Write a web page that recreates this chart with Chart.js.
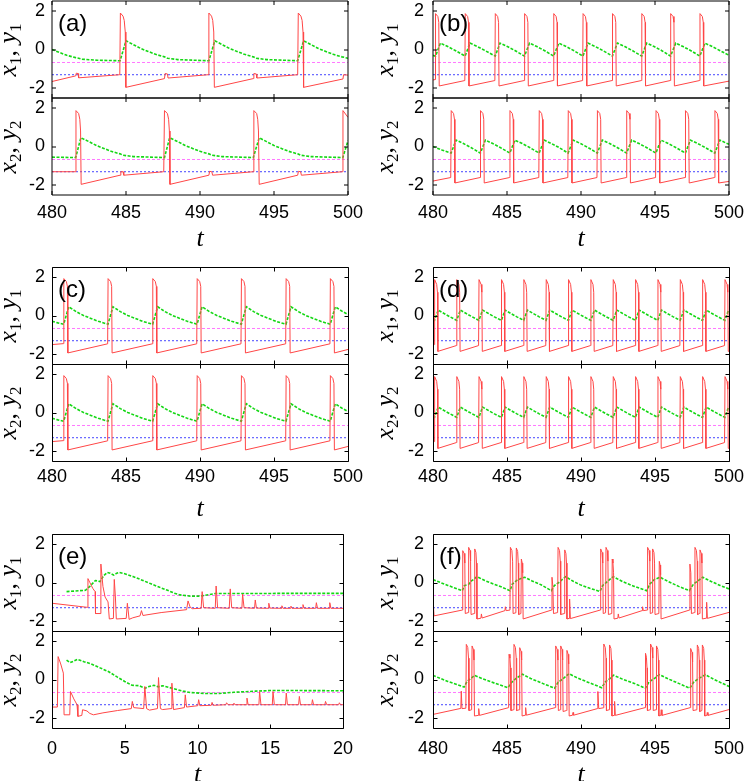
<!DOCTYPE html>
<html><head><meta charset="utf-8">
<script src="https://cdn.jsdelivr.net/npm/chart.js@4.4.1/dist/chart.umd.min.js"></script>
<style>
html,body{margin:0;padding:0;background:#fff;}
#wrap{position:relative;width:747px;height:781px;overflow:hidden;background:#fff;}
canvas{position:absolute;}
.lab{position:absolute;font-family:'Liberation Sans',Arial,sans-serif;font-size:24px;line-height:24px;color:#000;white-space:nowrap;}
.yl{position:absolute;font-family:'Liberation Serif','DejaVu Serif',serif;font-size:26px;line-height:26px;white-space:nowrap;transform:translate(-50%,-50%) rotate(-90deg);color:#000;}
.yl i{font-style:italic;}
.yl sub{font-size:17px;font-style:normal;vertical-align:-5px;line-height:0;}
.tl{position:absolute;font-family:'Liberation Serif','DejaVu Serif',serif;font-style:italic;font-size:26px;line-height:26px;transform:translateX(-50%);color:#000;}
</style></head><body><div id="wrap"></div>
<script>
// ---------------- DATA ----------------
const ticks480 = [480,485,490,495,500];
const ticks0 = [0,5,10,15,20];
const yTickVals = [-2,0,2];
const magentaLevel = -0.67;
const blueLevel = -1.3;

// (a) anti-phase
const a1x = [[480,-1.65],[481.6,-1.36],[481.64,-1.22],[481.76,-1.24],[481.8,-1.46],[484.58,-1.3],[484.62,1.88],[484.8,1.72],[484.88,1.5],[484.95,0.9],[484.99,-1.95],[487.6,-1.5],[487.64,-1.24],[487.8,-1.26],[487.84,-1.47],[490.56,-1.3],[490.6,1.88],[490.78,1.72],[490.86,1.5],[490.93,0.9],[490.97,-1.95],[493.6,-1.5],[493.64,-1.24],[493.8,-1.26],[493.84,-1.47],[496.6,-1.3],[496.64,1.88],[496.82,1.72],[496.9,1.5],[496.96,0.9],[497.0,-1.95],[499.66,-1.52],[499.7,-1.3],[500,-1.32]];
const a1y = [[480,0.0],[480.5,-0.15],[481.0,-0.3],[481.6,-0.42],[481.8,-0.45],[482.0,-0.5],[483,-0.55],[484.6,-0.58],[485.0,0.45],[485.5,0.25],[486.0,0.05],[486.5,-0.1],[487.0,-0.25],[487.6,-0.38],[487.8,-0.45],[488.5,-0.52],[490.6,-0.58],[491.0,0.45],[491.5,0.25],[492,0.05],[492.5,-0.1],[493,-0.25],[493.6,-0.38],[493.8,-0.45],[494.5,-0.52],[496.6,-0.58],[497.0,0.45],[497.5,0.25],[498,0.05],[498.5,-0.1],[499,-0.25],[499.6,-0.38],[500,-0.45]];
const a2x = [[480,-1.3],[481.58,-1.3],[481.62,1.85],[481.8,1.7],[481.88,1.4],[481.93,0.8],[481.97,-1.95],[484.6,-1.48],[484.65,-1.3],[484.8,-1.3],[484.85,-1.48],[487.55,-1.3],[487.6,1.85],[487.8,1.7],[487.88,1.4],[487.93,0.8],[487.97,-1.95],[490.6,-1.48],[490.65,-1.28],[490.8,-1.3],[490.85,-1.48],[493.6,-1.3],[493.64,1.85],[493.83,1.7],[493.9,1.4],[493.95,0.8],[494.0,-1.95],[496.6,-1.48],[496.65,-1.28],[496.8,-1.3],[496.85,-1.48],[499.62,-1.3],[499.66,1.85],[500,1.5]];
const a2y = [[480,-0.55],[481.6,-0.57],[481.95,0.45],[482.5,0.25],[483,0.05],[483.5,-0.1],[484,-0.25],[484.6,-0.38],[484.8,-0.45],[485.5,-0.52],[487.6,-0.57],[487.95,0.45],[488.5,0.25],[489,0.05],[489.5,-0.1],[490,-0.25],[490.6,-0.38],[490.8,-0.45],[491.5,-0.52],[493.6,-0.57],[494.0,0.45],[494.5,0.25],[495,0.05],[495.5,-0.1],[496,-0.25],[496.6,-0.38],[496.8,-0.45],[497.5,-0.52],[499.65,-0.57],[500,0.3]];

// (b)
const b1x = [[480,-1.57],[480.14,-1.55],[480.17,1.85],[480.33,1.7],[480.39,1.4],[480.42,-1.88],[482.15,-1.6],[482.18,1.85],[482.34,1.7],[482.4,1.4],[482.43,-1.88],[484.18,-1.6],[484.21,1.85],[484.37,1.7],[484.43,1.4],[484.46,-1.88],[486.16,-1.6],[486.19,1.85],[486.35,1.7],[486.41,1.4],[486.44,-1.88],[488.13,-1.6],[488.16,1.85],[488.32,1.7],[488.38,1.4],[488.41,-1.88],[490.11,-1.6],[490.14,1.85],[490.3,1.7],[490.36,1.4],[490.39,-1.88],[492.1,-1.6],[492.13,1.85],[492.29,1.7],[492.35,1.4],[492.38,-1.88],[494.08,-1.6],[494.11,1.85],[494.27,1.7],[494.33,1.4],[494.36,-1.88],[496.03,-1.6],[496.06,1.85],[496.22,1.7],[496.28,1.4],[496.31,-1.88],[498.01,-1.6],[498.04,1.85],[498.2,1.7],[498.26,1.4],[498.29,-1.88],[500,-1.63]];
const b1y = [[480,-0.3],[480.17,-0.35],[480.5,0.33],[481.0,0.15],[481.5,-0.05],[482.17,-0.34],[482.5,0.33],[483,0.15],[483.5,-0.05],[484.2,-0.34],[484.53,0.33],[485.03,0.15],[485.53,-0.05],[486.18,-0.34],[486.52,0.33],[487.02,0.15],[487.52,-0.05],[488.15,-0.34],[488.5,0.33],[489,0.15],[489.5,-0.05],[490.13,-0.34],[490.47,0.33],[490.97,0.15],[491.47,-0.05],[492.12,-0.34],[492.46,0.33],[492.96,0.15],[493.46,-0.05],[494.1,-0.34],[494.44,0.33],[494.94,0.15],[495.44,-0.05],[496.05,-0.34],[496.4,0.33],[496.9,0.15],[497.4,-0.05],[498.03,-0.34],[498.37,0.33],[498.87,0.15],[499.37,-0.05],[500,-0.3]];
const b2x = [[480,-1.78],[481.2,-1.6],[481.23,1.85],[481.39,1.7],[481.45,1.4],[481.48,-1.88],[483.18,-1.6],[483.21,1.85],[483.37,1.7],[483.43,1.4],[483.46,-1.88],[485.17,-1.6],[485.2,1.85],[485.36,1.7],[485.42,1.4],[485.45,-1.88],[487.15,-1.6],[487.18,1.85],[487.34,1.7],[487.4,1.4],[487.43,-1.88],[489.11,-1.6],[489.14,1.85],[489.3,1.7],[489.36,1.4],[489.39,-1.88],[491.08,-1.6],[491.11,1.85],[491.27,1.7],[491.33,1.4],[491.36,-1.88],[493.06,-1.6],[493.09,1.85],[493.25,1.7],[493.31,1.4],[493.34,-1.88],[495.04,-1.6],[495.07,1.85],[495.23,1.7],[495.29,1.4],[495.32,-1.88],[497.03,-1.6],[497.06,1.85],[497.22,1.7],[497.28,1.4],[497.31,-1.88],[499.02,-1.6],[499.05,1.85],[499.21,1.7],[499.27,1.4],[499.3,-1.88],[500,-1.8]];
const b2y = [[480,0.0],[480.6,-0.18],[481.22,-0.34],[481.56,0.33],[482.06,0.15],[482.56,-0.05],[483.2,-0.34],[483.54,0.33],[484.04,0.15],[484.54,-0.05],[485.19,-0.34],[485.53,0.33],[486.03,0.15],[486.53,-0.05],[487.17,-0.34],[487.51,0.33],[488.01,0.15],[488.51,-0.05],[489.13,-0.34],[489.47,0.33],[489.97,0.15],[490.47,-0.05],[491.1,-0.34],[491.44,0.33],[491.94,0.15],[492.44,-0.05],[493.08,-0.34],[493.42,0.33],[493.92,0.15],[494.42,-0.05],[495.06,-0.34],[495.4,0.33],[495.9,0.15],[496.4,-0.05],[497.05,-0.34],[497.39,0.33],[497.89,0.15],[498.39,-0.05],[499.04,-0.34],[499.38,0.33],[499.88,0.15],[500,0.11]];

// (c) in-phase: both units identical
const cx = [[480,-1.5],[480.77,-1.45],[480.8,1.9],[480.97,1.75],[481.04,1.5],[481.07,-1.93],[483.76,-1.46],[483.79,1.9],[483.96,1.75],[484.03,1.5],[484.06,-1.93],[486.78,-1.46],[486.81,1.9],[486.98,1.75],[487.05,1.5],[487.08,-1.93],[489.78,-1.46],[489.81,1.9],[489.98,1.75],[490.05,1.5],[490.08,-1.93],[492.77,-1.46],[492.8,1.9],[492.97,1.75],[493.04,1.5],[493.07,-1.93],[495.79,-1.46],[495.82,1.9],[495.99,1.75],[496.06,1.5],[496.09,-1.93],[498.78,-1.46],[498.81,1.9],[498.98,1.75],[499.05,1.5],[499.08,-1.93],[500,-1.75]];
const cy = [[480,-0.3],[480.4,-0.38],[480.79,-0.45],[481.13,0.45],[481.63,0.2],[482.13,0.0],[482.63,-0.15],[483.13,-0.3],[483.78,-0.45],[484.12,0.45],[484.62,0.2],[485.12,0.0],[485.62,-0.15],[486.12,-0.3],[486.8,-0.45],[487.14,0.45],[487.64,0.2],[488.14,0.0],[488.64,-0.15],[489.14,-0.3],[489.8,-0.45],[490.14,0.45],[490.64,0.2],[491.14,0.0],[491.64,-0.15],[492.14,-0.3],[492.79,-0.45],[493.13,0.45],[493.63,0.2],[494.13,0.0],[494.63,-0.15],[495.13,-0.3],[495.81,-0.45],[496.15,0.45],[496.65,0.2],[497.15,0.0],[497.65,-0.15],[498.15,-0.3],[498.8,-0.45],[499.14,0.45],[499.64,0.2],[500,0.05]];

// (d) in-phase: both units identical
const dx = [[480,-1.52],[480.08,-1.5],[480.11,1.85],[480.25,1.6],[480.3,1.2],[480.33,-1.85],[481.58,-1.55],[481.61,1.85],[481.75,1.6],[481.8,1.2],[481.83,-1.85],[483.08,-1.55],[483.11,1.85],[483.25,1.6],[483.3,1.2],[483.33,-1.85],[484.6,-1.55],[484.63,1.85],[484.77,1.6],[484.82,1.2],[484.85,-1.85],[486.11,-1.55],[486.14,1.85],[486.28,1.6],[486.33,1.2],[486.36,-1.85],[487.62,-1.55],[487.65,1.85],[487.79,1.6],[487.84,1.2],[487.87,-1.85],[489.13,-1.55],[489.16,1.85],[489.3,1.6],[489.35,1.2],[489.38,-1.85],[490.64,-1.55],[490.67,1.85],[490.81,1.6],[490.86,1.2],[490.89,-1.85],[492.15,-1.55],[492.18,1.85],[492.32,1.6],[492.37,1.2],[492.4,-1.85],[493.66,-1.55],[493.69,1.85],[493.83,1.6],[493.88,1.2],[493.91,-1.85],[495.17,-1.55],[495.2,1.85],[495.34,1.6],[495.39,1.2],[495.42,-1.85],[496.68,-1.55],[496.71,1.85],[496.85,1.6],[496.9,1.2],[496.93,-1.85],[498.19,-1.55],[498.22,1.85],[498.36,1.6],[498.41,1.2],[498.44,-1.85],[499.7,-1.55],[499.73,1.85],[499.87,1.6],[499.92,1.2],[499.95,-1.85],[500,-1.84]];
const dy = [[480,-0.2],[480.1,-0.25],[480.35,0.28],[480.75,0.1],[481.15,-0.07],[481.6,-0.25],[481.85,0.28],[482.25,0.1],[482.65,-0.07],[483.1,-0.25],[483.35,0.28],[483.75,0.1],[484.15,-0.07],[484.62,-0.25],[484.87,0.28],[485.27,0.1],[485.67,-0.07],[486.13,-0.25],[486.38,0.28],[486.78,0.1],[487.18,-0.07],[487.64,-0.25],[487.89,0.28],[488.29,0.1],[488.69,-0.07],[489.15,-0.25],[489.4,0.28],[489.8,0.1],[490.2,-0.07],[490.66,-0.25],[490.91,0.28],[491.31,0.1],[491.71,-0.07],[492.17,-0.25],[492.42,0.28],[492.82,0.1],[493.22,-0.07],[493.68,-0.25],[493.93,0.28],[494.33,0.1],[494.73,-0.07],[495.19,-0.25],[495.44,0.28],[495.84,0.1],[496.24,-0.07],[496.7,-0.25],[496.95,0.28],[497.35,0.1],[497.75,-0.07],[498.21,-0.25],[498.46,0.28],[498.86,0.1],[499.26,-0.07],[499.72,-0.25],[499.97,0.28],[500,0.27]];

// (e) transient, t = 0..20
const e1x = [[0,-1.07],[2.43,-1.28],[2.47,0.2],[2.6,0.0],[2.8,-0.3],[2.96,-0.47],[2.99,-1.6],[3.3,-1.6],[3.36,0.95],[3.5,-0.2],[3.65,-0.75],[3.85,-1.0],[3.94,-1.88],[4.22,-1.85],[4.28,0.16],[4.36,-0.8],[4.42,-1.88],[5.1,-1.85],[5.18,-1.07],[5.3,-1.9],[5.55,-1.82],[6.05,-1.72],[6.15,-1.45],[6.25,-1.7],[7.5,-1.55],[9.25,-1.4],[9.35,-0.95],[9.5,-1.28],[9.65,-1.35],[10.25,-1.33],[10.32,-0.47],[10.42,-1.3],[11.22,-1.33],[11.28,-0.18],[11.38,-1.3],[12.18,-1.33],[12.25,-0.33],[12.35,-1.3],[13.05,-1.33],[13.1,-0.6],[13.2,-1.3],[13.92,-1.33],[13.97,-0.9],[14.05,-1.32],[14.85,-1.33],[14.9,-1.07],[14.98,-1.32],[15.75,-1.33],[15.8,-1.2],[15.88,-1.33],[16.38,-1.33],[16.42,-1.22],[16.5,-1.33],[17.2,-1.33],[17.25,-1.14],[17.33,-1.33],[18.12,-1.33],[18.17,-1.04],[18.25,-1.33],[19.04,-1.33],[19.09,-1.04],[19.17,-1.33],[20,-1.33]];
const e1y = [[1.0,-0.47],[2.3,-0.4],[2.6,-0.2],[2.98,0.1],[3.3,0.05],[3.55,0.35],[3.8,0.52],[4.0,0.48],[4.24,0.38],[4.45,0.48],[4.6,0.52],[5.0,0.45],[5.6,0.3],[6.2,0.12],[6.8,-0.07],[7.4,-0.25],[7.9,-0.39],[8.4,-0.55],[8.8,-0.64],[9.5,-0.7],[10.2,-0.7],[10.65,-0.64],[11.2,-0.57],[12,-0.57],[14,-0.57],[16,-0.56],[18,-0.56],[20,-0.56]];
const e2x = [[0,-1.42],[0.37,-1.42],[0.42,1.18],[0.6,0.8],[0.78,0.33],[0.83,-1.82],[1.22,-1.82],[1.27,-0.62],[1.5,-1.0],[1.72,-1.3],[1.78,-1.9],[2.05,-1.85],[2.1,-1.56],[2.4,-1.62],[2.6,-1.75],[2.85,-1.82],[3.5,-1.72],[4.5,-1.6],[5.45,-1.5],[5.52,-1.13],[5.62,-1.45],[6.3,-1.5],[6.38,-0.36],[6.5,-1.5],[6.7,-1.58],[7.25,-1.5],[7.32,0.1],[7.45,-1.5],[7.6,-1.55],[8.18,-1.5],[8.24,-0.19],[8.35,-1.55],[9.1,-1.45],[9.16,-0.79],[9.25,-1.42],[10.02,-1.35],[10.08,-1.04],[10.16,-1.35],[10.95,-1.33],[11.0,-1.18],[11.08,-1.33],[11.95,-1.3],[12.0,-1.2],[12.1,-1.3],[12.45,-1.3],[12.5,-1.22],[12.58,-1.3],[13.35,-1.3],[13.4,-0.96],[13.48,-1.3],[14.22,-1.3],[14.27,-0.62],[14.36,-1.3],[15.14,-1.3],[15.19,-0.62],[15.28,-1.3],[16.05,-1.3],[16.1,-0.7],[16.18,-1.3],[16.95,-1.3],[17.0,-0.87],[17.08,-1.3],[17.85,-1.3],[17.9,-1.04],[17.98,-1.3],[18.75,-1.3],[18.8,-1.13],[18.88,-1.3],[19.7,-1.3],[19.75,-1.2],[19.83,-1.3],[20,-1.3]];
const e2y = [[1.0,1.0],[1.25,0.87],[1.5,0.95],[1.76,1.04],[2.2,0.92],[2.7,0.8],[3.3,0.6],[3.9,0.4],[4.5,0.12],[5.0,-0.1],[5.5,-0.3],[6.0,-0.32],[6.4,-0.45],[6.6,-0.38],[7.0,-0.3],[7.3,-0.38],[7.6,-0.32],[8.0,-0.4],[8.5,-0.5],[9.0,-0.6],[9.5,-0.67],[10.5,-0.72],[11.5,-0.72],[12.5,-0.66],[14,-0.6],[15,-0.57],[17,-0.57],[20,-0.58]];

// (f) bursting
const f1x = [[480,-0.85],[480.07,-1.72],[481.98,-1.42],[482.01,1.64],[482.1,1.5],[482.15,1.0],[482.18,-1.6],[482.38,-1.55],[482.41,1.81],[482.5,1.65],[482.54,1.1],[482.57,-1.65],[482.79,-1.6],[482.82,1.73],[482.9,1.55],[482.94,1.0],[482.97,-1.88],[483.24,-1.84],[483.27,-1.62],[483.32,-1.83],[484.86,-1.45],[484.89,-1.25],[484.94,-1.45],[485.2,-1.42],[485.23,1.81],[485.33,1.65],[485.38,1.1],[485.41,-1.6],[485.6,-1.56],[485.63,1.78],[485.72,1.6],[485.76,1.0],[485.79,-1.65],[485.94,-1.6],[485.97,1.21],[486.03,1.0],[486.06,0.5],[486.09,-1.88],[488.01,-1.42],[488.04,0.27],[488.1,-0.2],[488.14,-1.6],[488.42,-1.55],[488.45,1.81],[488.55,1.65],[488.6,1.1],[488.63,-1.65],[488.87,-1.6],[488.9,1.68],[488.98,1.5],[489.02,1.0],[489.05,-1.88],[489.2,-1.85],[489.23,-0.85],[489.28,-1.86],[491.3,-1.42],[491.33,1.73],[491.42,1.55],[491.47,1.0],[491.5,-1.6],[491.66,-1.56],[491.69,1.81],[491.78,1.65],[491.82,1.1],[491.85,-1.65],[492.08,-1.6],[492.11,1.21],[492.16,1.0],[492.2,0.5],[492.23,-1.88],[492.49,-1.84],[492.52,-1.62],[492.57,-1.83],[494.13,-1.45],[494.16,-1.25],[494.21,-1.45],[494.47,-1.42],[494.5,1.81],[494.6,1.65],[494.65,1.1],[494.68,-1.6],[494.81,-1.56],[494.84,1.73],[494.93,1.55],[494.97,1.0],[495.0,-1.65],[495.26,-1.6],[495.29,1.09],[495.34,0.9],[495.38,0.4],[495.41,-1.88],[497.33,-1.42],[497.36,0.95],[497.42,0.5],[497.46,-1.6],[497.67,-1.55],[497.7,1.81],[497.8,1.65],[497.85,1.1],[497.88,-1.65],[498.01,-1.6],[498.04,1.68],[498.13,1.5],[498.17,1.0],[498.2,-1.88],[498.46,-1.84],[498.49,-1.02],[498.54,-1.85],[500,-1.54]];
const f1y = [[480,0.15],[481.0,-0.15],[481.98,-0.42],[482.12,-0.16],[482.4,-0.1],[482.6,0.08],[482.97,0.3],[483.5,0.1],[484.0,-0.05],[484.6,-0.22],[485.2,-0.42],[485.36,-0.08],[485.7,0.13],[485.95,0.21],[486.19,0.27],[486.7,0.08],[487.3,-0.12],[488.0,-0.42],[488.2,-0.16],[488.5,0.0],[488.96,0.3],[489.5,0.05],[489.93,-0.11],[490.6,-0.3],[491.28,-0.46],[491.46,-0.16],[491.85,0.1],[492.18,0.3],[492.8,0.05],[493.6,-0.2],[494.43,-0.42],[494.65,-0.08],[494.95,0.15],[495.34,0.27],[495.9,0.05],[496.6,-0.2],[497.32,-0.42],[497.6,-0.08],[497.93,0.1],[498.22,0.27],[498.8,0.05],[499.4,-0.15],[500,-0.33]];
const f2x = [[480,-1.8],[481.88,-1.49],[481.91,-0.6],[481.96,-1.5],[482.22,-1.48],[482.25,1.81],[482.35,1.65],[482.4,1.1],[482.43,-1.6],[482.61,-1.56],[482.64,1.73],[482.73,1.55],[482.77,1.0],[482.8,-1.88],[483.06,-1.85],[483.09,-1.5],[483.14,-1.85],[485.11,-1.45],[485.14,1.3],[485.2,1.1],[485.24,0.6],[485.27,-1.6],[485.44,-1.56],[485.47,1.81],[485.57,1.65],[485.62,1.1],[485.65,-1.6],[485.83,-1.56],[485.86,1.64],[485.95,1.45],[485.99,1.0],[486.02,-1.88],[486.23,-1.84],[486.26,-1.45],[486.31,-1.84],[488.26,-1.45],[488.29,1.73],[488.39,1.55],[488.44,1.0],[488.47,-1.6],[488.6,-1.56],[488.63,1.73],[488.72,1.55],[488.76,1.0],[488.79,-1.65],[489.02,-1.6],[489.05,1.5],[489.13,1.3],[489.17,0.8],[489.2,-1.88],[489.43,-1.84],[489.46,-1.7],[489.5,-1.84],[491.11,-1.5],[491.14,-0.62],[491.2,-1.5],[491.51,-1.46],[491.54,1.83],[491.64,1.65],[491.69,1.1],[491.72,-1.6],[491.9,-1.56],[491.93,1.78],[492.02,1.6],[492.06,1.0],[492.09,-1.88],[492.24,-1.85],[492.27,-1.13],[492.32,-1.85],[494.33,-1.45],[494.36,1.35],[494.42,1.15],[494.46,0.6],[494.49,-1.6],[494.67,-1.56],[494.7,1.83],[494.8,1.65],[494.85,1.1],[494.88,-1.6],[495.07,-1.56],[495.1,1.73],[495.19,1.55],[495.23,1.0],[495.26,-1.88],[495.39,-1.85],[495.42,-1.56],[495.47,-1.85],[497.38,-1.45],[497.41,1.6],[497.5,1.4],[497.54,0.9],[497.57,-1.6],[497.83,-1.56],[497.86,1.78],[497.95,1.6],[497.99,1.0],[498.02,-1.65],[498.17,-1.6],[498.2,1.78],[498.29,1.6],[498.33,1.0],[498.36,-1.88],[498.5,-1.85],[498.53,-1.7],[498.58,-1.85],[500,-1.55]];
const f2y = [[480,0.21],[481.0,-0.1],[482.1,-0.39],[482.3,-0.1],[482.55,0.05],[482.82,0.21],[483.4,0.02],[484.2,-0.2],[485.07,-0.42],[485.3,-0.16],[485.6,0.05],[486.04,0.27],[486.6,0.05],[487.4,-0.2],[488.22,-0.45],[488.45,-0.15],[488.8,0.05],[489.19,0.3],[489.7,0.1],[490.5,-0.15],[491.4,-0.42],[491.65,-0.12],[491.95,0.05],[492.2,0.22],[492.8,0.02],[493.6,-0.2],[494.35,-0.45],[494.6,-0.12],[494.95,0.05],[495.3,0.25],[495.9,0.03],[496.6,-0.2],[497.35,-0.45],[497.6,-0.15],[497.95,0.05],[498.4,0.25],[499.0,0.0],[500,-0.36]];

// ---------------- LAYOUT / STYLE ----------------
const RED = 'rgb(255,70,70)', GREEN = 'rgb(20,215,20)', BLUE = 'rgb(70,70,255)', MAG = 'rgb(255,120,255)';
const TICKFONT = "'Liberation Sans', Arial, sans-serif";
const wrap = document.getElementById('wrap');
const SUBH = 97;

const framePlugin = {
  id: 'frame',
  afterDatasetsDraw(chart, args, opts) {
    const {ctx, chartArea: a, scales: {x, y}} = chart;
    const o = opts.off || 0;
    const L = Math.round(a.left) + o, R = Math.round(a.right) + o, T = Math.round(a.top) + o, B = Math.round(a.bottom) + o;
    const tl = 4;
    ctx.save();
    ctx.strokeStyle = opts.color || '#000';
    ctx.lineWidth = 1;
    ctx.beginPath();
    ctx.rect(L, T, R - L, B - T);
    for (const tk of x.ticks) {
      const px = Math.round(x.getPixelForValue(tk.value)) + o;
      ctx.moveTo(px, B); ctx.lineTo(px, B - tl);
      ctx.moveTo(px, T); ctx.lineTo(px, T + tl);
    }
    for (const tk of y.ticks) {
      const py = Math.round(y.getPixelForValue(tk.value)) + o;
      ctx.moveTo(L, py); ctx.lineTo(L + tl, py);
      ctx.moveTo(R, py); ctx.lineTo(R - tl, py);
    }
    ctx.stroke();
    ctx.restore();
  }
};

function makeSub(o) {
  const cv = document.createElement('canvas');
  const padTop = 4, padRight = 20;
  const xAxisH = o.showX ? 44 : 4;
  const W = o.fl - o.cl;
  const width = o.fr + padRight - o.cl;
  const height = padTop + SUBH + xAxisH;
  cv.width = width; cv.height = height;
  cv.style.left = o.cl + 'px'; cv.style.top = (o.top - padTop) + 'px';
  cv.style.width = width + 'px'; cv.style.height = height + 'px';
  wrap.appendChild(cv);
  new Chart(cv, {
    type: 'line',
    data: {datasets: [
      {data: o.xs, borderColor: RED, borderWidth: 1},
      {data: o.ys, borderColor: GREEN, borderWidth: 1.6, borderDash: [3, 1.5]},
      {data: [[o.xmin, blueLevel], [o.xmax, blueLevel]], borderColor: BLUE, borderWidth: 1, borderDash: [2, 2]},
      {data: [[o.xmin, magentaLevel], [o.xmax, magentaLevel]], borderColor: MAG, borderWidth: 1, borderDash: [3, 2]}
    ]},
    options: {
      responsive: false, animation: false, devicePixelRatio: 1,
      layout: {padding: {top: padTop, right: padRight, left: 0, bottom: 0}},
      elements: {point: {radius: 0}, line: {tension: 0, fill: false}},
      plugins: {legend: {display: false}, tooltip: {enabled: false}, frame: {color: o.fcol, off: o.off}},
      scales: {
        x: {
          type: 'linear', min: o.xmin, max: o.xmax,
          grid: {display: false, drawTicks: false}, border: {display: false},
          afterBuildTicks: s => { s.ticks = o.xt.map(v => ({value: v})); },
          ticks: {display: o.showX, padding: o.lpad, maxRotation: 0, autoSkip: false, color: '#000', font: {family: TICKFONT, size: 18}},
          afterFit: s => { s.height = xAxisH; s.paddingLeft = 0; s.paddingRight = 0; }
        },
        y: {
          type: 'linear', min: -2.5, max: 2.5,
          grid: {display: false, drawTicks: false}, border: {display: false},
          afterBuildTicks: s => { s.ticks = yTickVals.map(v => ({value: v})); },
          ticks: {padding: o.ypad, color: '#000', font: {family: TICKFONT, size: 18}},
          afterFit: s => { s.width = W; s.paddingTop = 0; s.paddingBottom = 0; }
        }
      }
    },
    plugins: [framePlugin]
  });
}

function addDiv(cls, html, left, top) {
  const d = document.createElement('div');
  d.className = cls; d.innerHTML = html;
  d.style.left = left + 'px'; d.style.top = top + 'px';
  wrap.appendChild(d);
}

const rows = [
  {top: 1, lpad: 7, tTop: 225, fcol: '#000', off: 0},
  {top: 267, lpad: 5.5, tTop: 495, fcol: '#000', off: 0.5},
  {top: 534, lpad: 10, tTop: 761, fcol: '#000', off: 0.5}
];
const cols = [
  {cl: 0, fl: 52, ypad: 7, ylx: 7.5},
  {cl: 377, fl: 433, ypad: 9, ylx: 384.5}
];
const panels = [
  {lab: '(a)', r: 0, c: 0, fr: 348, xmin: 480, xmax: 500, xt: ticks480, top: [a1x, a1y], bot: [a2x, a2y]},
  {lab: '(b)', r: 0, c: 1, fr: 729, xmin: 480, xmax: 500, xt: ticks480, top: [b1x, b1y], bot: [b2x, b2y]},
  {lab: '(c)', r: 1, c: 0, fr: 348, xmin: 480, xmax: 500, xt: ticks480, top: [cx, cy], bot: [cx, cy]},
  {lab: '(d)', r: 1, c: 1, fr: 729, xmin: 480, xmax: 500, xt: ticks480, top: [dx, dy], bot: [dx, dy]},
  {lab: '(e)', r: 2, c: 0, fr: 343, xmin: 0, xmax: 20, xt: ticks0, top: [e1x, e1y], bot: [e2x, e2y]},
  {lab: '(f)', r: 2, c: 1, fr: 729, xmin: 480, xmax: 500, xt: ticks480, top: [f1x, f1y], bot: [f2x, f2y]}
];

for (const p of panels) {
  const R = rows[p.r], C = cols[p.c];
  const base = {cl: C.cl, fl: C.fl, fr: p.fr, xmin: p.xmin, xmax: p.xmax, xt: p.xt, ypad: C.ypad, lpad: R.lpad, fcol: R.fcol, off: R.off};
  makeSub(Object.assign({}, base, {top: R.top, showX: false, xs: p.top[0], ys: p.top[1]}));
  makeSub(Object.assign({}, base, {top: R.top + SUBH, showX: true, xs: p.bot[0], ys: p.bot[1]}));
  addDiv('lab', p.lab, C.fl + 6, R.top + 9.5);
  addDiv('yl', '<i>x</i><sub>1</sub>, <i>y</i><sub>1</sub>', C.ylx, R.top + SUBH / 2);
  addDiv('yl', '<i>x</i><sub>2</sub>, <i>y</i><sub>2</sub>', C.ylx, R.top + SUBH * 1.5);
  addDiv('tl', 't', (C.fl + p.fr) / 2, R.tTop);
}
</script></body></html>
